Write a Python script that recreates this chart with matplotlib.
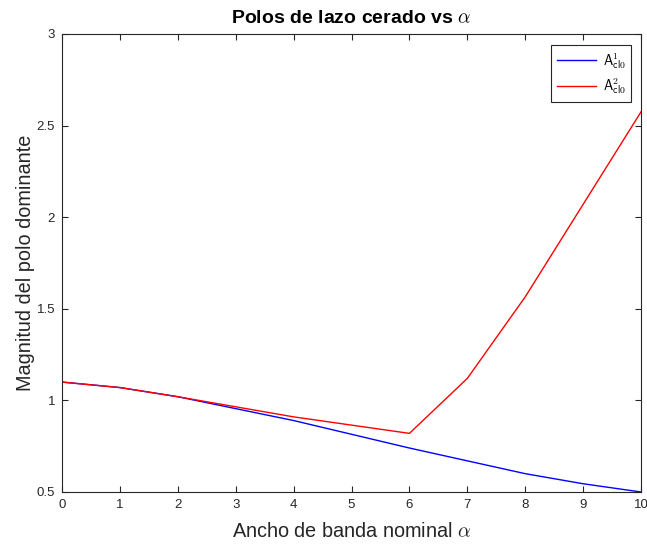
import numpy as np
import matplotlib.pyplot as plt

plt.rcParams['font.family'] = ['Liberation Sans', 'DejaVu Sans']
plt.rcParams['mathtext.fontset'] = 'cm'

# ancho de banda nominal
alpha = [0, 1, 2, 3, 4, 5, 6, 7, 8, 9, 10]
# magnitud del polo dominante para cada caso
polo_1 = [1.10, 1.07, 1.02, 0.955, 0.89, 0.815, 0.74, 0.67, 0.60, 0.545, 0.50]
polo_2 = [1.10, 1.07, 1.02, 0.965, 0.91, 0.865, 0.82, 1.12, 1.565, 2.07, 2.575]

eje = '#262626'

fig = plt.figure(figsize=(6.47, 5.44), dpi=100)
ax = fig.add_axes([0.0958, 0.0956, 0.895, 0.842])

ax.plot(alpha, polo_1, color='blue', lw=1.0, label=r'$\mathsf{A}^{1}_{\mathsf{cl0}}$')
ax.plot(alpha, polo_2, color='red', lw=1.0, label=r'$\mathsf{A}^{2}_{\mathsf{cl0}}$')

ax.set_xlim(0, 10)
ax.set_ylim(0.5, 3)
ax.set_xticks(range(0, 11))
ax.set_yticks([0.5, 1, 1.5, 2, 2.5, 3])
ax.set_yticklabels(['0.5', '1', '1.5', '2', '2.5', '3'])

ax.tick_params(direction='in', top=True, right=True, length=4, width=0.8,
               labelsize=9.5, colors=eje, pad=5)
for s in ax.spines.values():
    s.set_color(eje)
    s.set_linewidth(0.8)

ax.set_xlabel(r'Ancho de banda nominal $\alpha$', fontsize=14.3, color=eje, labelpad=8)
ax.set_ylabel('Magnitud del polo dominante', fontsize=14.3, color=eje, labelpad=1)
ax.set_title(r'Polos de lazo cerado vs $\alpha$', fontsize=14, fontweight='bold', pad=8)

leg = ax.legend(loc='upper right', fontsize=10, fancybox=False, framealpha=1,
                edgecolor=eje, handlelength=2.8, handletextpad=0.5, borderpad=0.4,
                labelspacing=0.4, borderaxespad=0, bbox_to_anchor=(0.983, 0.975))
leg.get_frame().set_linewidth(0.8)

fig.savefig('out.png', dpi=100)
